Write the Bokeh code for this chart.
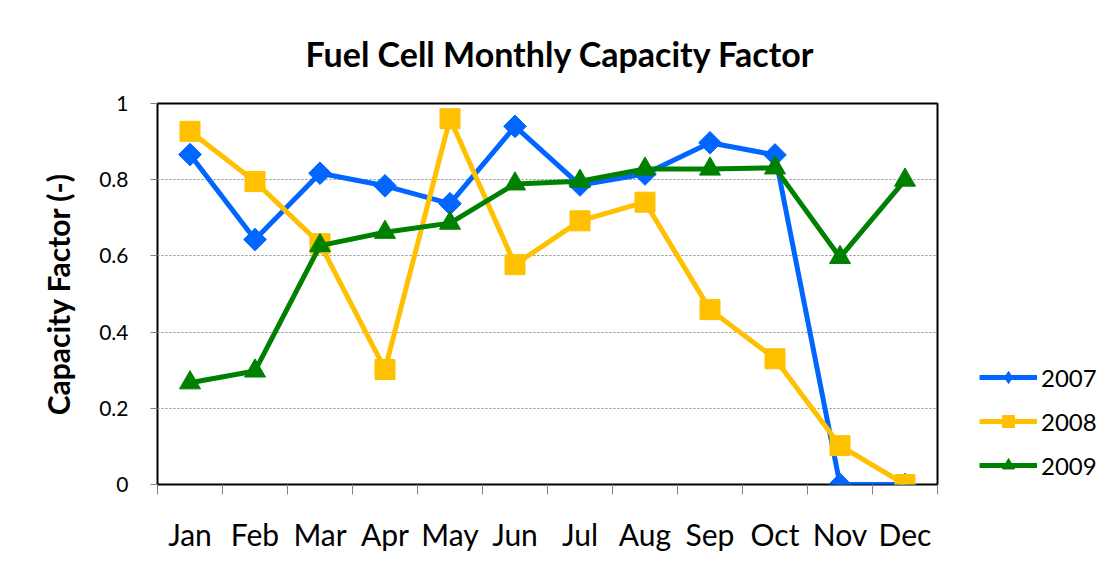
from bokeh.plotting import figure
from bokeh.models import FixedTicker, Legend, LegendItem, Range1d
from bokeh.embed import file_html
from bokeh.resources import INLINE
import math

months = ["Jan", "Feb", "Mar", "Apr", "May", "Jun", "Jul", "Aug", "Sep", "Oct", "Nov", "Dec"]
cf_2007 = [0.866, 0.643, 0.817, 0.784, 0.737, 0.940, 0.786, 0.815, 0.897, 0.865, 0.0, 0.0]
cf_2008 = [0.927, 0.795, 0.632, 0.302, 0.960, 0.577, 0.692, 0.741, 0.459, 0.330, 0.102, 0.0]
cf_2009 = [0.267, 0.298, 0.627, 0.662, 0.686, 0.789, 0.796, 0.828, 0.828, 0.831, 0.596, 0.799]
y_ticks = [0, 0.2, 0.4, 0.6, 0.8, 1.0]
y_tick_labels = ["0", "0.2", "0.4", "0.6", "0.8", "1"]

FONT = "Lato"
xs = [i + 0.5 for i in range(len(months))]

p = figure(frame_width=780, frame_height=381, output_backend="svg", toolbar_location=None,
           x_range=Range1d(0, len(months)), y_range=Range1d(0, 1),
           min_border_left=157, min_border_right=157, min_border_top=103, min_border_bottom=77)

p.title.text = "Fuel Cell Monthly Capacity Factor"
p.title.align = "left"
p.title.text_font = FONT
p.title.text_font_size = "34px"
p.title.text_font_style = "bold"
p.title.text_color = "black"
p.title.standoff = 60
p.title.offset = 148

p.outline_line_color = "black"
p.outline_line_width = 2
p.xgrid.grid_line_color = None
p.ygrid.grid_line_color = "#8c8c8c"
p.ygrid.grid_line_dash = "2 2"
p.ygrid.grid_line_width = 1

p.xaxis.ticker = FixedTicker(ticks=xs, minor_ticks=list(range(len(months) + 1)))
p.xaxis.major_label_overrides = {x: m for x, m in zip(xs, months)}
p.xaxis.major_tick_line_color = None
p.xaxis.minor_tick_line_color = "#808080"
p.xaxis.minor_tick_out = 10
p.xaxis.minor_tick_in = 0
p.xaxis.axis_line_color = None
p.xaxis.major_label_text_font = FONT
p.xaxis.major_label_text_font_size = "30px"
p.xaxis.major_label_text_color = "black"
p.xaxis.major_label_standoff = 21

p.yaxis.ticker = FixedTicker(ticks=y_ticks, minor_ticks=[])
p.yaxis.major_label_overrides = {t: s for t, s in zip(y_ticks, y_tick_labels)}
p.yaxis.major_tick_line_color = "#808080"
p.yaxis.major_tick_out = 7
p.yaxis.major_tick_in = 0
p.yaxis.axis_line_color = None
p.yaxis.major_label_text_font = FONT
p.yaxis.major_label_text_font_size = "21px"
p.yaxis.major_label_text_color = "black"
p.yaxis.major_label_standoff = 22
p.yaxis.axis_label = "Capacity Factor (-)"
p.yaxis.axis_label_text_font = FONT
p.yaxis.axis_label_text_font_size = "30px"
p.yaxis.axis_label_text_font_style = "bold"
p.yaxis.axis_label_text_color = "black"
p.yaxis.axis_label_standoff = 20

series = [
    ("2007", cf_2007, "#0066ff", "square", 16, math.pi / 4, "diamond"),
    ("2008", cf_2008, "#ffc000", "square", 20, 0, "square"),
    ("2009", cf_2009, "#008000", "triangle", 21, 0, "triangle"),
]
items = []
for label, vals, color, marker, size, angle, legend_marker in series:
    ln = p.line(xs, vals, line_color=color, line_width=5, line_join="round")
    if legend_marker != marker:
        # smaller diamond hidden under the rotated square; used for the legend key
        lg = p.scatter(xs, vals, marker=legend_marker, size=size,
                       fill_color=color, line_color=color)
    sc = p.scatter(xs, vals, marker=marker, size=size, angle=angle,
                   fill_color=color, line_color=color)
    if legend_marker != marker:
        items.append(LegendItem(label=label, renderers=[ln, lg]))
    else:
        items.append(LegendItem(label=label, renderers=[ln, sc]))

legend = Legend(items=items, location=(42, 4), glyph_width=58, glyph_height=30,
                spacing=14, padding=0, margin=0, label_standoff=4,
                border_line_color=None, background_fill_alpha=0,
                label_text_font=FONT, label_text_font_size="24px",
                label_text_color="black")
p.add_layout(legend, "right")

open("out.html", "w").write(file_html(p, INLINE))
